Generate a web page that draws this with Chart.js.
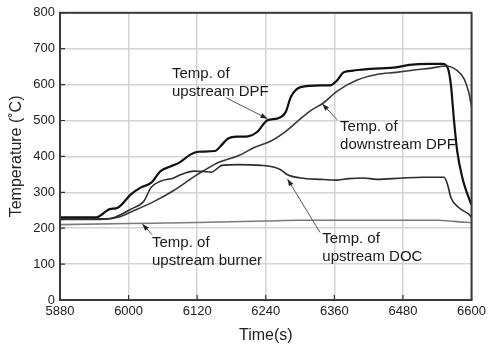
<!DOCTYPE html>
<html>
<head>
<meta charset="utf-8">
<script src="https://cdn.jsdelivr.net/npm/chart.js@4/dist/chart.umd.min.js"></script>
<style>
  html, body { margin: 0; padding: 0; background: #fff; }
  canvas { display: block; }
</style>
</head>
<body>
<canvas id="chart" width="490" height="347"></canvas>
<script>
// time (s) / temperature (deg C) readings for each thermocouple
const upDpfTime = [5880, 5920, 5943, 5967, 5981, 6004, 6021, 6039, 6056, 6073, 6088, 6108, 6122, 6151, 6163, 6174, 6192, 6209, 6225, 6243, 6261, 6275, 6284, 6301, 6336, 6353, 6365, 6376, 6393, 6422, 6468, 6491, 6526, 6549, 6558, 6564, 6569, 6575, 6584, 6593, 6600]
const upDpfTemp = [230, 230, 230, 253, 257, 294, 313, 326, 359, 372, 382, 405, 413, 415, 432, 450, 455, 456, 468, 501, 506, 524, 566, 593, 598, 598, 612, 634, 639, 644, 648, 655, 658, 658, 648, 598, 506, 414, 340, 294, 265]

const downDpfTime = [5880, 5960, 5985, 6004, 6044, 6079, 6114, 6131, 6160, 6192, 6220, 6249, 6275, 6295, 6318, 6340, 6365, 6399, 6434, 6468, 6497, 6530, 6555, 6575, 6587, 6595, 6600]
const downDpfTemp = [224, 225, 232, 245, 274, 305, 343, 360, 385, 402, 425, 443, 470, 497, 527, 548, 582, 612, 628, 634, 640, 646, 652, 639, 616, 579, 540]

const docTime = [5880, 5960, 5975, 6004, 6027, 6039, 6056, 6079, 6091, 6114, 6131, 6145, 6155, 6163, 6192, 6232, 6255, 6266, 6278, 6301, 6336, 6365, 6385, 6411, 6434, 6480, 6515, 6552, 6558, 6564, 6578, 6595, 6600]
const docTemp = [226, 226, 230, 253, 276, 313, 331, 340, 349, 359, 358, 356, 366, 375, 377, 375, 370, 363, 349, 340, 336, 334, 338, 340, 336, 340, 342, 342, 322, 285, 257, 239, 230]

const burnerTime = [5880, 6000, 6120, 6240, 6300, 6400, 6540, 6570, 6600]
const burnerTemp = [210, 213, 216, 220, 222, 222, 222, 219, 215]

const timeTicks = [5880, 6000, 6120, 6240, 6360, 6480, 6600]
const tempTicks = [0, 100, 200, 300, 400, 500, 600, 700, 800]

function toPoints(xs, ys) {
    return xs.map(function(x, i) {
        return { x: x, y: ys[i] }
    })
}

function series(label, xs, ys, color, width) {
    return {
        label: label,
        data: toPoints(xs, ys),
        borderColor: color,
        borderWidth: width,
        pointRadius: 0,
        fill: false,
        cubicInterpolationMode: 'monotone'
    }
}

// callouts: text anchor, leader start, arrow tip (all in data units)
const notes = [
    { lines: ['Temp. of', 'upstream DPF'], at: [6076, 629], from: [6171, 563], to: [6243, 505] },
    { lines: ['Temp. of', 'downstream DPF'], at: [6370, 483], from: [6365, 502], to: [6339, 546] },
    { lines: ['Temp. of', 'upstream DOC'], at: [6339, 171], from: [6335, 188], to: [6278, 337] },
    { lines: ['Temp. of', 'upstream burner'], at: [6041, 160], from: [6041, 182], to: [6024, 212] }
]

const FONT = '"Liberation Sans", Arial, sans-serif'

const framePlugin = {
    id: 'frame',
    afterDraw(chart) {
        const ctx = chart.ctx
        const a = chart.chartArea
        const xs = chart.scales.x
        const ys = chart.scales.y
        ctx.save()
        ctx.strokeStyle = '#333'
        ctx.lineWidth = 1.2
        ctx.beginPath()
        timeTicks.forEach(function(t) {
            const px = xs.getPixelForValue(t)
            ctx.moveTo(px, a.bottom)
            ctx.lineTo(px, a.bottom - 5)
        })
        tempTicks.forEach(function(v) {
            const py = ys.getPixelForValue(v)
            ctx.moveTo(a.left, py)
            ctx.lineTo(a.left + 5, py)
        })
        ctx.stroke()
        ctx.lineWidth = 2
        ctx.strokeStyle = '#3a3a3a'
        ctx.strokeRect(a.left, a.top, a.right - a.left, a.bottom - a.top)
        ctx.restore()
    }
}

const notesPlugin = {
    id: 'notes',
    afterDraw(chart) {
        const ctx = chart.ctx
        const xs = chart.scales.x
        const ys = chart.scales.y
        ctx.save()
        notes.forEach(function(n) {
            const x0 = xs.getPixelForValue(n.from[0])
            const y0 = ys.getPixelForValue(n.from[1])
            const x1 = xs.getPixelForValue(n.to[0])
            const y1 = ys.getPixelForValue(n.to[1])
            ctx.strokeStyle = '#444'
            ctx.lineWidth = 0.9
            ctx.beginPath()
            ctx.moveTo(x0, y0)
            ctx.lineTo(x1, y1)
            ctx.stroke()
            // arrow head
            const ang = Math.atan2(y1 - y0, x1 - x0)
            const len = 7, half = 2.5
            ctx.fillStyle = '#222'
            ctx.beginPath()
            ctx.moveTo(x1, y1)
            ctx.lineTo(x1 - len * Math.cos(ang) + half * Math.sin(ang), y1 - len * Math.sin(ang) - half * Math.cos(ang))
            ctx.lineTo(x1 - len * Math.cos(ang) - half * Math.sin(ang), y1 - len * Math.sin(ang) + half * Math.cos(ang))
            ctx.closePath()
            ctx.fill()

            const tx = xs.getPixelForValue(n.at[0])
            const ty = ys.getPixelForValue(n.at[1])
            ctx.font = '15px ' + FONT
            ctx.fillStyle = '#1a1a1a'
            ctx.textAlign = 'left'
            ctx.textBaseline = 'middle'
            n.lines.forEach(function(line, i) {
                ctx.fillText(line, tx, ty + i * 18)
            })
        })
        ctx.restore()
    }
}

const datasets = [
    series('Temp. of upstream burner', burnerTime, burnerTemp, '#7a7a7a', 1.6),
    series('Temp. of upstream DOC', docTime, docTemp, '#2b2b2b', 1.6),
    series('Temp. of downstream DPF', downDpfTime, downDpfTemp, '#383838', 1.6),
    series('Temp. of upstream DPF', upDpfTime, upDpfTemp, '#111', 2.2)
]

const ctx = document.getElementById('chart').getContext('2d')
new Chart(ctx, {
    type: 'line',
    data: { datasets: datasets },
    options: {
        responsive: false,
        animation: false,
        layout: { padding: { top: 10, right: 14, left: 0, bottom: 0 } },
        plugins: {
            legend: { display: false },
            tooltip: { enabled: false }
        },
        scales: {
            x: {
                type: 'linear',
                min: 5880,
                max: 6600,
                afterBuildTicks(scale) {
                    scale.ticks = timeTicks.map(function(v) { return { value: v } })
                },
                afterFit(scale) { scale.height = 47 },
                ticks: {
                    padding: 4,
                    color: '#222',
                    font: { family: FONT, size: 13 },
                    maxRotation: 0,
                    callback: function(v) { return String(v) }
                },
                grid: { color: '#d4d4d4', lineWidth: 1.5, drawTicks: false },
                border: { display: false },
                title: {
                    display: true,
                    text: 'Time(s)',
                    color: '#222',
                    font: { family: FONT, size: 16 },
                    padding: { top: 0, bottom: 2 }
                }
            },
            y: {
                min: 0,
                max: 800,
                afterBuildTicks(scale) {
                    scale.ticks = tempTicks.map(function(v) { return { value: v } })
                },
                afterFit(scale) { scale.width = 60 },
                ticks: {
                    padding: 5,
                    color: '#222',
                    font: { family: FONT, size: 13 },
                    callback: function(v) { return String(v) }
                },
                grid: { color: '#d4d4d4', lineWidth: 1.5, drawTicks: false },
                border: { display: false },
                title: {
                    display: true,
                    text: 'Temperature (˚C)',
                    color: '#222',
                    font: { family: FONT, size: 16 },
                    padding: { top: 7, bottom: 0 }
                }
            }
        }
    },
    plugins: [framePlugin, notesPlugin]
})
</script>
</body>
</html>
